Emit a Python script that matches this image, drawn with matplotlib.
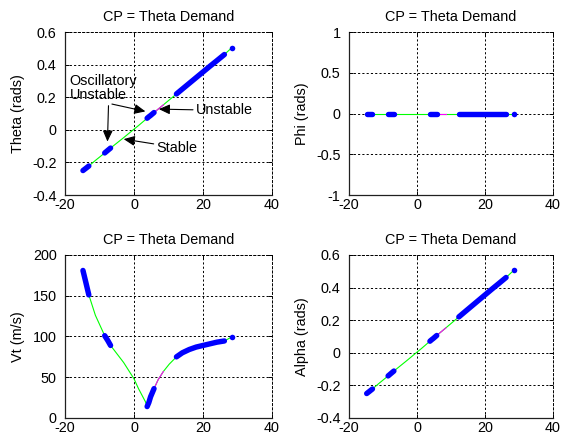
import matplotlib
matplotlib.use("Agg")
import matplotlib.pyplot as plt
import numpy as np

plt.rcParams['font.family'] = ['Liberation Sans', 'DejaVu Sans']
plt.rcParams['font.size'] = 10.4

# Trim sweep over the theta demand (control parameter)
cp = [-14.8, -14.0, -13.1, -11.2, -8.5, -7.6, -6.8, -3.0, 0.0, 1.3, 3.3, 3.8, 4.3,
      4.8, 5.8, 7.0, 8.5, 10.2, 12.3, 14.0, 16.0, 18.0, 20.0, 22.0, 24.0, 26.2, 28.4]
theta = [-0.250, -0.237, -0.222, -0.188, -0.142, -0.126, -0.112, -0.048, 0.004, 0.026,
         0.062, 0.071, 0.080, 0.088, 0.106, 0.127, 0.153, 0.183, 0.220, 0.250, 0.285,
         0.320, 0.355, 0.390, 0.424, 0.462, 0.505]
phi = [0.0] * len(cp)
vt = [181, 167, 151, 126, 101, 95, 89, 68, 48, 36, 20, 14, 19, 26, 36, 47, 57, 66,
      75, 80, 84, 87, 89, 91, 93, 94.5, 99.6]
alpha = [-0.250, -0.237, -0.222, -0.188, -0.142, -0.126, -0.112, -0.048, 0.004, 0.026,
         0.062, 0.071, 0.080, 0.088, 0.106, 0.127, 0.153, 0.183, 0.220, 0.250, 0.285,
         0.320, 0.355, 0.390, 0.424, 0.462, 0.505]

# Stability classification along the branch
osc_ranges = [(-14.8, -13.1), (-8.5, -6.8), (3.8, 5.8), (12.3, 26.2)]
osc_points = [28.4]
unstable_ranges = [(5.8, 8.5)]

title_text = "CP = Theta Demand"
x_ticks = [-20, 0, 20, 40]

panels = [
    ("Theta (rads)", theta, (-0.4, 0.6), [-0.4, -0.2, 0, 0.2, 0.4, 0.6], ["-0.4", "-0.2", "0", "0.2", "0.4", "0.6"]),
    ("Phi (rads)", phi, (-1, 1), [-1, -0.5, 0, 0.5, 1], ["-1", "-0.5", "0", "0.5", "1"]),
    ("Vt (m/s)", vt, (0, 200), [0, 50, 100, 150, 200], ["0", "50", "100", "150", "200"]),
    ("Alpha (rads)", alpha, (-0.4, 0.6), [-0.4, -0.2, 0, 0.2, 0.4, 0.6], ["-0.4", "-0.2", "0", "0.2", "0.4", "0.6"]),
]

positions = [
    [0.1157, 0.5578, 0.3683, 0.3696],
    [0.6210, 0.5578, 0.3630, 0.3696],
    [0.1157, 0.0522, 0.3683, 0.3696],
    [0.6210, 0.0522, 0.3630, 0.3696],
]

fig = plt.figure(figsize=(5.62, 4.41), dpi=100)
fig.patch.set_facecolor('white')

cp_arr = np.array(cp)
axes = []
for (ylabel, yvals, ylim, yticks, yticklabels), pos in zip(panels, positions):
    ax = fig.add_axes(pos)
    y_arr = np.array(yvals, dtype=float)

    # whole branch in green
    ax.plot(cp_arr, y_arr, color='#00ff00', lw=0.8, zorder=3)
    # statically unstable part in magenta
    for lo, hi in unstable_ranges:
        m = (cp_arr >= lo) & (cp_arr <= hi)
        ax.plot(cp_arr[m], y_arr[m], color='#ff00ff', lw=0.8, zorder=4)
    # oscillatory unstable parts as heavy blue dots
    for lo, hi in osc_ranges:
        m = (cp_arr >= lo) & (cp_arr <= hi)
        ax.plot(cp_arr[m], y_arr[m], color='#0000ff', lw=3.9,
                solid_capstyle='round', solid_joinstyle='round', zorder=5)
    for p in osc_points:
        m = np.isclose(cp_arr, p)
        ax.plot(cp_arr[m], y_arr[m], 'o', color='#0000ff', ms=4.0, mec='none', zorder=5)

    ax.set_xlim(-20, 40)
    ax.set_ylim(*ylim)
    ax.set_xticks(x_ticks)
    ax.set_xticklabels([str(t) for t in x_ticks])
    ax.set_yticks(yticks)
    ax.set_yticklabels(yticklabels)
    ax.grid(True, color='black', linestyle=(0, (2.2, 2.2)), lw=0.7)
    ax.set_axisbelow(True)
    for side in ('left', 'bottom'):
        ax.spines[side].set_color('#202020')
        ax.spines[side].set_linewidth(0.9)
    for side in ('top', 'right'):
        ax.spines[side].set_color('black')
        ax.spines[side].set_linewidth(0.7)
        ax.spines[side].set_linestyle((0, (2.2, 2.2)))
    ax.tick_params(direction='in', length=3, width=0.7, color='black',
                   top=True, right=True, labelsize=10.4)
    ax.tick_params(axis='y', pad=6)
    ax.tick_params(axis='x', pad=2.5)
    ax.set_title(title_text, fontsize=10.4, pad=8)
    ax.set_ylabel(ylabel, fontsize=10.4, labelpad=5.5)
    axes.append(ax)

# Annotations on the theta panel
ax = axes[0]
arrow_kw = dict(arrowstyle='-|>,head_length=0.55,head_width=0.25', color='black',
                lw=0.8, mutation_scale=12, shrinkA=0, shrinkB=0)
ax.text(-18.6, 0.257, "Oscillatory\nUnstable", ha='left', va='center', fontsize=10.4,
        linespacing=1.05, zorder=6)
ax.annotate("", xy=(-7.7, -0.072), xytext=(-7.4, 0.148), arrowprops=arrow_kw, zorder=6)
ax.annotate("", xy=(3.3, 0.113), xytext=(-6.4, 0.158), arrowprops=arrow_kw, zorder=6)
ax.annotate("Unstable", xy=(7.2, 0.127), xytext=(17.9, 0.119), ha='left', va='center',
            fontsize=10.4, arrowprops=arrow_kw, zorder=6)
ax.annotate("Stable", xy=(-3.0, -0.057), xytext=(6.5, -0.109), ha='left', va='center',
            fontsize=10.4, arrowprops=arrow_kw, zorder=6)

fig.savefig("out.png", dpi=100, facecolor='white')
